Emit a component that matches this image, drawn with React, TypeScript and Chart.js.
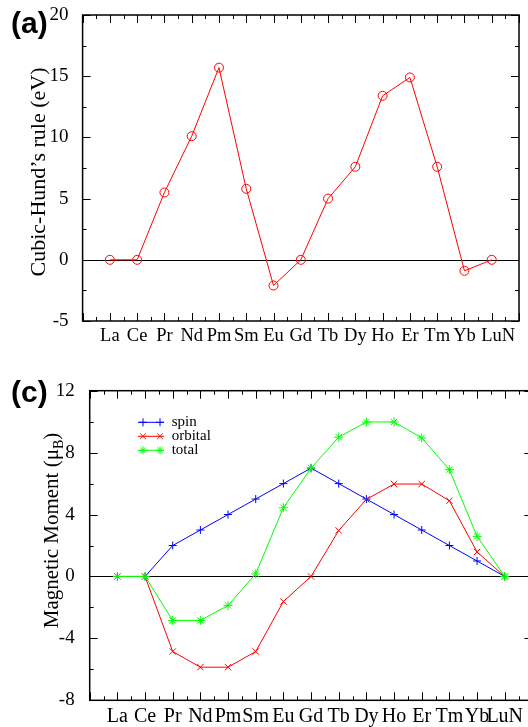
import React, { useEffect, useRef } from 'react';
import { Chart, registerables } from 'chart.js';

Chart.register(...registerables);

// ---------- data ----------
const elements = ['La', 'Ce', 'Pr', 'Nd', 'Pm', 'Sm', 'Eu', 'Gd', 'Tb', 'Dy', 'Ho', 'Er', 'Tm', 'Yb', 'LuN'];
const hundRule = [0, 0, 5.5, 10.1, 15.7, 5.8, -2.1, 0, 5.0, 7.6, 13.4, 14.9, 7.6, -0.9, 0];
const hundTicks = [-5, 0, 5, 10, 15, 20];
const spinMoment = [0, 0, 2, 3, 4, 5, 6, 7, 6, 5, 4, 3, 2, 1, 0];
const orbitalMoment = [0, 0, -4.85, -5.86, -5.86, -4.85, -1.62, 0, 2.97, 4.98, 5.97, 5.97, 4.89, 1.58, 0];
const totalMoment = [0, 0, -2.84, -2.84, -1.87, 0.17, 4.44, 7.0, 9.0, 9.98, 9.98, 8.95, 6.9, 2.59, 0];
const momentTicks = [-8, -4, 0, 4, 8, 12];
const seriesNames = ['spin', 'orbital', 'total'];
const seriesColors = ['#0000ff', '#ff0000', '#00ff00'];
const seriesMarkers = ['cross', 'crossRot', 'star'];
const xTickValues = elements.map((_, i) => i + 1);

const SERIF = '"Liberation Serif", "Times New Roman", serif';
const SANS = '"Liberation Sans", Arial, sans-serif';

function drawMarker(ctx: CanvasRenderingContext2D, style: string, x: number, y: number, r: number) {
  ctx.beginPath();
  if (style === 'circle') ctx.arc(x, y, r, 0, Math.PI * 2);
  if (style === 'cross' || style === 'star') {
    ctx.moveTo(x, y - r); ctx.lineTo(x, y + r);
    ctx.moveTo(x - r, y); ctx.lineTo(x + r, y);
  }
  if (style === 'crossRot' || style === 'star') {
    const d = r * Math.SQRT1_2;
    ctx.moveTo(x - d, y - d); ctx.lineTo(x + d, y + d);
    ctx.moveTo(x - d, y + d); ctx.lineTo(x + d, y - d);
  }
  ctx.stroke();
}

type Part = { text: string; sub?: boolean };
type PanelCfg = {
  panel: string; panelX: number; panelY: number; panelSize: number;
  title: Part[]; titleSize: number; titleBaseX: number; titleCenterY: number;
  xMajor: number; xMinor: number; yMajor: number; yMinor: number;
  legend?: { x0: number; x1: number; m0: number; m1: number; textX: number; y0: number; dy: number; size: number; r: number };
};

function makeFramePlugin(cfg: PanelCfg) {
  return {
    id: 'frame',
    beforeDatasetsDraw(chart: any) {
      const { ctx, chartArea: a, scales } = chart;
      const y0 = Math.round(scales.y.getPixelForValue(0)) + 0.5;
      ctx.save();
      ctx.strokeStyle = '#000';
      ctx.lineWidth = 1;
      ctx.beginPath();
      ctx.moveTo(a.left, y0);
      ctx.lineTo(a.right, y0);
      ctx.stroke();
      ctx.restore();
    },
    afterDraw(chart: any) {
      const { ctx, chartArea: a, scales } = chart;
      const xs = scales.x, ys = scales.y;
      ctx.save();
      ctx.strokeStyle = '#000';
      ctx.lineWidth = 1;
      const isMajor = (v: number, step: number) => Math.abs(v / step - Math.round(v / step)) < 1e-6;
      ctx.beginPath();
      for (let v = xs.min; v <= xs.max + 1e-9; v += cfg.xMinor) {
        const px = Math.round(xs.getPixelForValue(v)) + 0.5;
        const len = isMajor(v, cfg.xMajor) ? 8 : 4;
        ctx.moveTo(px, a.bottom); ctx.lineTo(px, a.bottom - len);
        ctx.moveTo(px, a.top); ctx.lineTo(px, a.top + len);
      }
      for (let v = ys.min; v <= ys.max + 1e-9; v += cfg.yMinor) {
        const py = Math.round(ys.getPixelForValue(v)) + 0.5;
        const len = isMajor(v, cfg.yMajor) ? 8 : 4;
        ctx.moveTo(a.left, py); ctx.lineTo(a.left + len, py);
        ctx.moveTo(a.right, py); ctx.lineTo(a.right - len, py);
      }
      ctx.stroke();
      ctx.lineWidth = 1.5;
      ctx.strokeRect(a.left, a.top, a.right - a.left, a.bottom - a.top);

      // panel label
      ctx.fillStyle = '#000';
      ctx.font = `bold ${cfg.panelSize}px ${SANS}`;
      ctx.textAlign = 'left';
      ctx.textBaseline = 'middle';
      ctx.fillText(cfg.panel, cfg.panelX, cfg.panelY);

      // rotated y title
      ctx.save();
      ctx.translate(cfg.titleBaseX, cfg.titleCenterY);
      ctx.rotate(-Math.PI / 2);
      ctx.textBaseline = 'alphabetic';
      const big = `${cfg.titleSize}px ${SERIF}`;
      const small = `${Math.round(cfg.titleSize * 0.68)}px ${SERIF}`;
      let total = 0;
      for (const p of cfg.title) { ctx.font = p.sub ? small : big; total += ctx.measureText(p.text).width; }
      let x = -total / 2;
      for (const p of cfg.title) {
        ctx.font = p.sub ? small : big;
        ctx.fillText(p.text, x, p.sub ? cfg.titleSize * 0.25 : 0);
        x += ctx.measureText(p.text).width;
      }
      ctx.restore();

      // legend
      if (cfg.legend) {
        const L = cfg.legend;
        chart.data.datasets.forEach((ds: any, i: number) => {
          const y = L.y0 + i * L.dy;
          ctx.strokeStyle = ds.borderColor;
          ctx.lineWidth = 1;
          ctx.beginPath();
          ctx.moveTo(L.x0, y); ctx.lineTo(L.x1, y);
          ctx.stroke();
          drawMarker(ctx, ds.pointStyle, L.m0, y, L.r);
          drawMarker(ctx, ds.pointStyle, L.m1, y, L.r);
          ctx.fillStyle = '#000';
          ctx.font = `${L.size}px ${SERIF}`;
          ctx.textAlign = 'left';
          ctx.textBaseline = 'middle';
          ctx.fillText(ds.label, L.textX, y);
        });
      }
      ctx.restore();
    },
  };
}

function buildConfig(opts: {
  datasets: any[]; yTicks: number[]; xLabelSize: number; xLabelPad: number; yLabelPad: number; yLabelSize: number;
  lastLabelShift: string;
  chartLeft: number; chartTop: number; chartRight: number; chartBottom: number; W: number; H: number; cfg: PanelCfg;
}): any {
  const { yTicks } = opts;
  return {
    type: 'line',
    data: { datasets: opts.datasets },
    options: {
      responsive: false,
      animation: false,
      events: [],
      layout: { padding: { top: opts.chartTop, right: opts.W - opts.chartRight, left: 0, bottom: 0 } },
      plugins: { legend: { display: false }, tooltip: { enabled: false } },
      scales: {
        x: {
          type: 'linear',
          min: 0,
          max: elements.length + 1,
          grid: { display: false },
          border: { display: false },
          afterBuildTicks: (s: any) => { s.ticks = xTickValues.map((v) => ({ value: v })); },
          afterFit: (s: any) => { s.height = opts.H - opts.chartBottom; s.paddingLeft = 0; s.paddingRight = 0; },
          ticks: {
            autoSkip: false,
            maxRotation: 0,
            minRotation: 0,
            padding: opts.xLabelPad,
            color: '#000',
            font: { family: SERIF, size: opts.xLabelSize },
            callback: (v: number) => {
              const i = Math.round(v) - 1;
              const lab = elements[i] ?? '';
              return i === elements.length - 1 ? opts.lastLabelShift + lab : lab;
            },
          },
        },
        y: {
          type: 'linear',
          min: yTicks[0],
          max: yTicks[yTicks.length - 1],
          grid: { display: false },
          border: { display: false },
          afterBuildTicks: (s: any) => { s.ticks = yTicks.map((v) => ({ value: v })); },
          afterFit: (s: any) => { s.width = opts.chartLeft; s.paddingTop = 0; s.paddingBottom = 0; },
          ticks: {
            padding: opts.yLabelPad,
            color: '#000',
            font: { family: SERIF, size: opts.yLabelSize },
            callback: (v: number) => String(v),
          },
        },
      },
    },
    plugins: [makeFramePlugin(opts.cfg)],
  };
}

const toPts = (vals: number[]) => vals.map((y, i) => ({ x: i + 1, y }));

function configA() {
  return buildConfig({
    W: 528, H: 360,
    chartLeft: 82.6, chartTop: 15, chartRight: 519, chartBottom: 321,
    xLabelSize: 18.5, xLabelPad: -4, yLabelPad: 6, yLabelSize: 19,
    lastLabelShift: '\u2002\u2009',
    yTicks: hundTicks,
    datasets: [{
      label: 'Cubic-Hund',
      data: toPts(hundRule),
      borderColor: '#ff0000',
      borderWidth: 1,
      tension: 0,
      fill: false,
      pointStyle: 'circle',
      pointRadius: 4.5,
      pointBorderWidth: 1,
      pointBorderColor: '#ff0000',
      pointBackgroundColor: 'rgba(0,0,0,0)',
    }],
    cfg: {
      panel: '(a)', panelX: 11, panelY: 25, panelSize: 30,
      title: [{ text: 'Cubic-Hund\u2019s rule (eV)' }], titleSize: 22, titleBaseX: 45, titleCenterY: 172,
      xMajor: 1, xMinor: 0.5, yMajor: 5, yMinor: 2.5,
    },
  });
}

function configC() {
  const vals = [spinMoment, orbitalMoment, totalMoment];
  const radii = [4, 4.5, 4.5];
  return buildConfig({
    W: 540, H: 367,
    chartLeft: 89.7, chartTop: 30.7, chartRight: 532.4, chartBottom: 340.3,
    xLabelSize: 20, xLabelPad: -4, yLabelPad: 7, yLabelSize: 19,
    lastLabelShift: '',
    yTicks: momentTicks,
    datasets: vals.map((v, i) => ({
      label: seriesNames[i],
      data: toPts(v),
      borderColor: seriesColors[i],
      borderWidth: 1,
      tension: 0,
      fill: false,
      order: 3 - i,
      pointStyle: seriesMarkers[i],
      pointRadius: radii[i],
      pointBorderWidth: 1,
      pointBorderColor: seriesColors[i],
      pointBackgroundColor: seriesColors[i],
    })),
    cfg: {
      panel: '(c)', panelX: 11, panelY: 34, panelSize: 30,
      title: [{ text: 'Magnetic Moment (\u03bc' }, { text: 'B', sub: true }, { text: ')' }],
      titleSize: 21, titleBaseX: 58, titleCenterY: 170.5,
      xMajor: 1, xMinor: 0.5, yMajor: 4, yMinor: 2,
      legend: { x0: 138, x1: 164, m0: 143, m1: 160, textX: 171.7, y0: 62.3, dy: 14, size: 15, r: 4 },
    },
  });
}

export default function App() {
  const refA = useRef<HTMLCanvasElement>(null);
  const refC = useRef<HTMLCanvasElement>(null);
  useEffect(() => {
    const a = new Chart(refA.current as HTMLCanvasElement, configA());
    const c = new Chart(refC.current as HTMLCanvasElement, configC());
    return () => { a.destroy(); c.destroy(); };
  }, []);
  return (
    <div style={{ position: 'absolute', left: 0, top: 0, width: 528, height: 727, overflow: 'hidden', background: '#fff' }}>
      <canvas ref={refA} width={528} height={360} style={{ position: 'absolute', left: 0, top: 0, width: 528, height: 360 }} />
      <canvas ref={refC} width={540} height={367} style={{ position: 'absolute', left: 0, top: 360, width: 540, height: 367 }} />
    </div>
  );
}
